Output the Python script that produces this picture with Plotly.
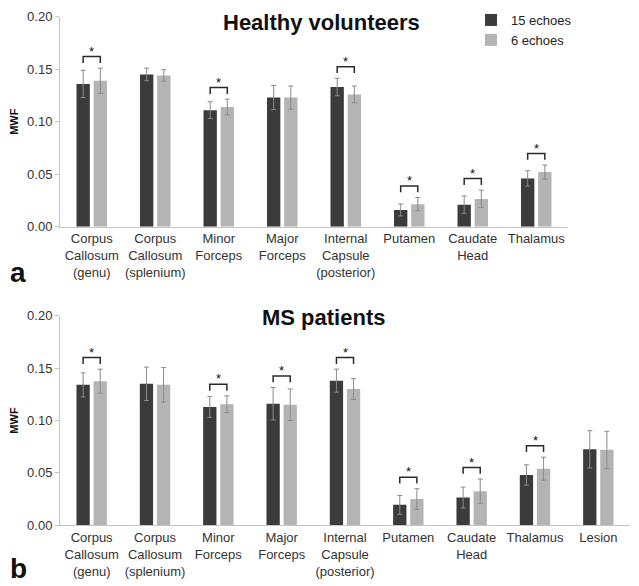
import plotly.graph_objects as go

# ---------------- data ----------------
cats_a = ["Corpus<br>Callosum<br>(genu)", "Corpus<br>Callosum<br>(splenium)", "Minor<br>Forceps",
          "Major<br>Forceps", "Internal<br>Capsule<br>(posterior)", "Putamen", "Caudate<br>Head", "Thalamus"]
cats_b = cats_a + ["Lesion"]

a15 = [0.136, 0.145, 0.111, 0.123, 0.133, 0.016, 0.021, 0.046]
a15_err = [0.013, 0.006, 0.008, 0.0115, 0.0083, 0.0057, 0.0083, 0.0073]
a6 = [0.139, 0.144, 0.114, 0.123, 0.126, 0.0215, 0.0265, 0.052]
a6_err = [0.012, 0.0055, 0.0075, 0.011, 0.008, 0.0063, 0.0083, 0.0067]
sig_a = [1, 0, 1, 0, 1, 1, 1, 1]

b15 = [0.134, 0.135, 0.113, 0.116, 0.138, 0.0195, 0.0265, 0.048, 0.0725]
b15_err = [0.0115, 0.016, 0.010, 0.0155, 0.011, 0.009, 0.010, 0.0097, 0.0178]
b6 = [0.1375, 0.134, 0.1155, 0.115, 0.130, 0.025, 0.0325, 0.054, 0.072]
b6_err = [0.0115, 0.0165, 0.008, 0.015, 0.010, 0.0099, 0.0116, 0.011, 0.0177]
sig_b = [1, 0, 1, 1, 1, 1, 1, 1, 0]

series_names = ["15 echoes", "6 echoes"]
ytick_vals = [0.0, 0.05, 0.10, 0.15, 0.20]

# ---------------- style ----------------
DARK = "#3b3b3b"
LIGHT = "#b4b4b4"
ERR = "#8a8a8a"
FONT = "Arial, Liberation Sans, sans-serif"
W, H = 639, 586
OX, OY = 8, 8  # page body margin offset
BW = 0.21
OFF = [-0.24, 0.03]
BR_GAP = 0.011
BR_DROP = 0.006


def xp(px):
    return (px - OX) / W


def yp(py):
    return 1 - (py - OY) / H


fig = go.Figure()


def add_panel(cats, v15, e15, v6, e6, sig, xa, ya, showleg):
    xs = list(range(len(cats)))
    for k, (vals, errs, col) in enumerate([(v15, e15, DARK), (v6, e6, LIGHT)]):
        fig.add_trace(go.Bar(
            x=xs, y=vals, width=BW, offset=OFF[k], name=series_names[k],
            marker=dict(color=col, line=dict(width=0)),
            error_y=dict(type="data", array=errs, color=ERR, thickness=1, width=2.5),
            xaxis=xa, yaxis=ya, showlegend=showleg, legendgroup=series_names[k]))
    bx, by = [], []
    stars = []
    for i, s in enumerate(sig):
        if not s:
            continue
        top = max(v15[i] + e15[i], v6[i] + e6[i]) + BR_GAP
        x0 = i + OFF[0] + BW / 2
        x1 = i + OFF[1] + BW / 2
        bx += [x0, x0, x1, x1, None]
        by += [top - BR_DROP, top, top, top - BR_DROP, None]
        stars.append(((x0 + x1) / 2, top))
    fig.add_trace(go.Scatter(x=bx, y=by, mode="lines", line=dict(color="#2a2a2a", width=1.5),
                             xaxis=xa, yaxis=ya, showlegend=False, hoverinfo="skip"))
    xr = "x" if xa == "x" else "x2"
    yr = "y" if ya == "y" else "y2"
    for sx, sy in stars:
        fig.add_annotation(x=sx, y=sy, xref=xr, yref=yr, text="*", showarrow=False,
                           yanchor="bottom", yshift=-4, font=dict(size=13, color="#111", family=FONT))


add_panel(cats_a, a15, a15_err, a6, a6_err, sig_a, "x", "y", True)
add_panel(cats_b, b15, b15_err, b6, b6_err, sig_b, "x2", "y2", False)

yax = dict(range=[0, 0.2], tickvals=ytick_vals, tickformat=".2f", showgrid=False, zeroline=False,
           showline=True, linecolor="#c4c4c4", linewidth=1, ticks="outside", ticklen=4,
           tickcolor="#c4c4c4", tickfont=dict(size=13, color="#333", family=FONT), automargin=False,
           title=dict(text="<b>MWF</b>", font=dict(size=11, color="#111", family=FONT), standoff=8))
xax = dict(showgrid=False, zeroline=False, showline=True, linecolor="#c4c4c4", linewidth=1,
           ticks="", tickfont=dict(size=13, color="#333", family=FONT), automargin=False)

fig.update_layout(
    width=W, height=H, margin=dict(l=0, r=0, t=0, b=0, autoexpand=False),
    paper_bgcolor="white", plot_bgcolor="white", barmode="overlay",
    font=dict(family=FONT, color="#333"),
    xaxis=dict(xax, domain=[xp(60), xp(568)], range=[-0.5, 7.5],
               tickvals=list(range(len(cats_a))), ticktext=cats_a, anchor="y"),
    yaxis=dict(yax, domain=[yp(226.7), yp(16.7)], anchor="x"),
    xaxis2=dict(xax, domain=[xp(60), xp(630)], range=[-0.5, 8.5],
                tickvals=list(range(len(cats_b))), ticktext=cats_b, anchor="y2"),
    yaxis2=dict(yax, domain=[yp(525.3), yp(315.7)], anchor="x2"),
    legend=dict(x=xp(471), y=yp(5), xanchor="left", yanchor="top",
                font=dict(size=13, color="#222", family=FONT), bgcolor="rgba(0,0,0,0)",
                itemwidth=30, tracegroupgap=0),
    showlegend=True,
)

fig.add_annotation(x=xp(321), y=yp(22), xref="paper", yref="paper", text="<b>Healthy volunteers</b>",
                   showarrow=False, font=dict(size=22, color="#111", family=FONT), xanchor="center", yanchor="middle")
fig.add_annotation(x=xp(323), y=yp(317), xref="paper", yref="paper", text="<b>MS patients</b>",
                   showarrow=False, font=dict(size=22, color="#111", family=FONT), xanchor="center", yanchor="middle")
fig.add_annotation(x=xp(18), y=yp(272), xref="paper", yref="paper", text="<b>a</b>",
                   showarrow=False, font=dict(size=28, color="#111", family=FONT), xanchor="center", yanchor="middle")
fig.add_annotation(x=xp(18), y=yp(568), xref="paper", yref="paper", text="<b>b</b>",
                   showarrow=False, font=dict(size=28, color="#111", family=FONT), xanchor="center", yanchor="middle")

fig.write_html("out.html")
